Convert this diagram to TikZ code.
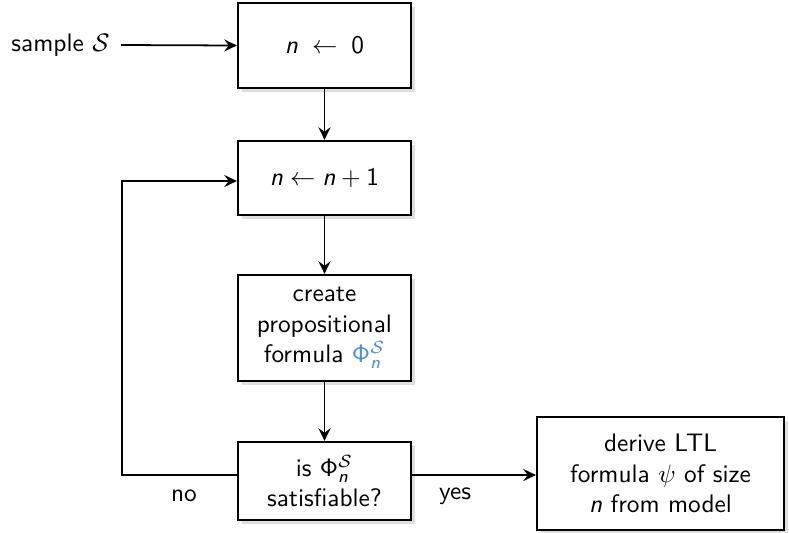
\documentclass[tikz,border=0pt]{standalone}
\usepackage{amsmath}
\usetikzlibrary{arrows.meta,shadows}
\definecolor{phiblue}{HTML}{4A8FD6}
\newcommand{\vn}{\text{\sffamily\itshape n}}
\newcommand{\sfn}[1]{\text{\sffamily #1}}
\newcommand{\myPhi}{\mathsf{\Phi}}
\begin{document}
\begin{tikzpicture}[x=0.395pt,y=-0.395pt,
  every node/.style={font=\sffamily},
  box/.style={draw, line width=0.9pt, fill=white, align=center,
    drop shadow={opacity=0.25, shadow xshift=1.4pt, shadow yshift=-1.4pt}},
  conn/.style={line width=0.7pt, -{Stealth[length=5pt,width=4.8pt,inset=1.8pt]}},
  lbl/.style={inner sep=0pt}]
\useasboundingbox (0,0) rectangle (789,532);
\node[box, minimum width=173*0.395pt, minimum height=85*0.395pt] (b1) at (324.5,45.5) {$\vn \;\leftarrow\; \sfn{0}$};
\node[box, minimum width=173*0.395pt, minimum height=74*0.395pt] (b2) at (324.5,178) {$\vn \leftarrow \vn+\sfn{1}$};
\node[box, minimum width=173*0.395pt, minimum height=106*0.395pt] (b3) at (324.5,328) {create\\propositional\\formula \textcolor{phiblue}{$\myPhi^{\mathcal{S}}_{\vn}$}};
\node[box, minimum width=173*0.395pt, minimum height=78*0.395pt] (b4) at (324.5,481) {is $\myPhi^{\mathcal{S}}_{\vn}$\\satisfiable?};
\node[box, minimum width=247*0.395pt, minimum height=113*0.395pt] (b5) at (660.5,473.5) {derive LTL\\formula $\psi$ of size\\\textit{n} from model};
\node[lbl, anchor=east] (in) at (110,45) {sample $\mathcal{S}$};
\coordinate (c1) at (122,475);
\coordinate (c2) at (122,181);
\node[lbl] (no) at (184,496) {no};
\node[lbl] (yes) at (455,496) {yes};
\draw[conn] (in.east) ++(11,0) -- (b1.west);
\draw[conn] (b1) -- (b2);
\draw[conn] (b2) -- (b3);
\draw[conn] (b3) -- (b4);
\draw[conn] (b4.west |- c1) -- (c1) -- (c2) -- (b2.west |- c2);
\draw[conn] (b4.east |- c1) -- (b5.west |- c1);
\end{tikzpicture}
\end{document}
